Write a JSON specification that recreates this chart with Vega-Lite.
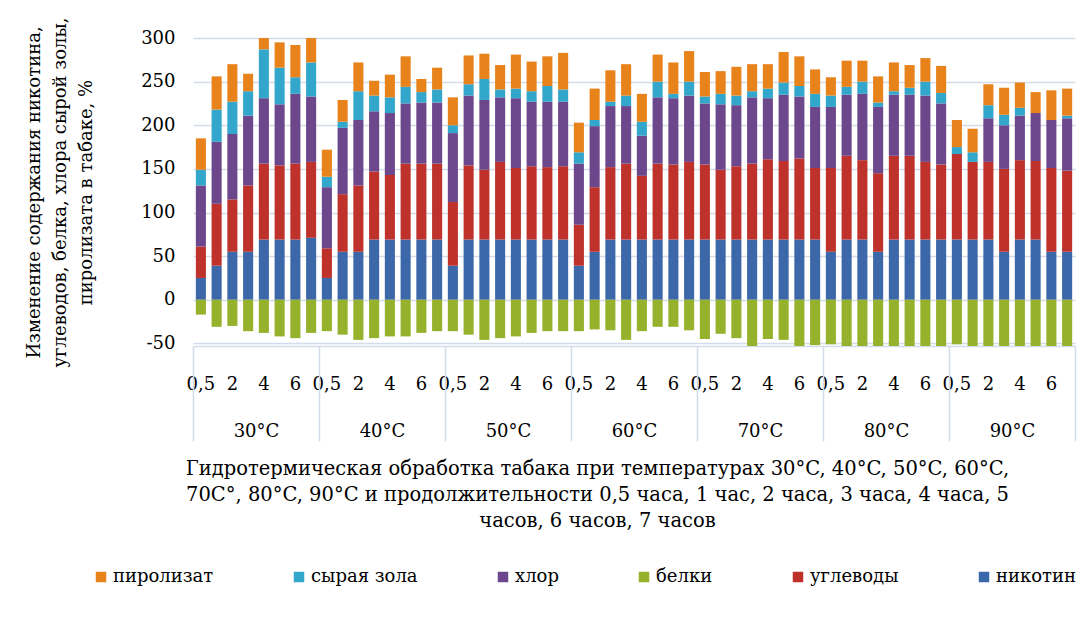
{
  "$schema": "https://vega.github.io/schema/vega-lite/v6.json",
  "width": 882,
  "height": 308,
  "autosize": {"type": "none"},
  "padding": {"left": 193, "top": 38, "right": 15, "bottom": 273},
  "background": "white",
  "config": {"view": {"stroke": null}, "font": "DejaVu Serif"},
  "datasets": {
    "series": [
      {"s": "никотин", "o": 1},
      {"s": "углеводы", "o": 2},
      {"s": "белки", "o": 3},
      {"s": "хлор", "o": 4},
      {"s": "сырая зола", "o": 5},
      {"s": "пиролизат", "o": 6}
    ],
    "bars": [
      {"t": "30°C", "k": "30|0,5", "никотин": 25, "углеводы": 36, "белки": -17, "хлор": 70, "сырая зола": 18, "пиролизат": 36},
      {"t": "30°C", "k": "30|1", "никотин": 39, "углеводы": 71, "белки": -31, "хлор": 71, "сырая зола": 37, "пиролизат": 38},
      {"t": "30°C", "k": "30|2", "никотин": 55, "углеводы": 60, "белки": -30, "хлор": 75, "сырая зола": 37, "пиролизат": 43},
      {"t": "30°C", "k": "30|3", "никотин": 55, "углеводы": 76, "белки": -36, "хлор": 80, "сырая зола": 28, "пиролизат": 20},
      {"t": "30°C", "k": "30|4", "никотин": 69, "углеводы": 87, "белки": -38, "хлор": 75, "сырая зола": 56, "пиролизат": 14},
      {"t": "30°C", "k": "30|5", "никотин": 69, "углеводы": 85, "белки": -42, "хлор": 70, "сырая зола": 42, "пиролизат": 29},
      {"t": "30°C", "k": "30|6", "никотин": 69, "углеводы": 87, "белки": -44, "хлор": 80, "сырая зола": 19, "пиролизат": 37},
      {"t": "30°C", "k": "30|7", "никотин": 71, "углеводы": 87, "белки": -38, "хлор": 75, "сырая зола": 39, "пиролизат": 29},
      {"t": "40°C", "k": "40|0,5", "никотин": 25, "углеводы": 34, "белки": -36, "хлор": 70, "сырая зола": 12, "пиролизат": 31},
      {"t": "40°C", "k": "40|1", "никотин": 55, "углеводы": 66, "белки": -40, "хлор": 76, "сырая зола": 7, "пиролизат": 25},
      {"t": "40°C", "k": "40|2", "никотин": 55, "углеводы": 76, "белки": -46, "хлор": 75, "сырая зола": 33, "пиролизат": 33},
      {"t": "40°C", "k": "40|3", "никотин": 69, "углеводы": 78, "белки": -44, "хлор": 69, "сырая зола": 18, "пиролизат": 17},
      {"t": "40°C", "k": "40|4", "никотин": 69, "углеводы": 74, "белки": -42, "хлор": 71, "сырая зола": 18, "пиролизат": 26},
      {"t": "40°C", "k": "40|5", "никотин": 69, "углеводы": 87, "белки": -42, "хлор": 69, "сырая зола": 19, "пиролизат": 35},
      {"t": "40°C", "k": "40|6", "никотин": 69, "углеводы": 87, "белки": -38, "хлор": 70, "сырая зола": 12, "пиролизат": 15},
      {"t": "40°C", "k": "40|7", "никотин": 69, "углеводы": 87, "белки": -36, "хлор": 70, "сырая зола": 15, "пиролизат": 25},
      {"t": "50°C", "k": "50|0,5", "никотин": 39, "углеводы": 73, "белки": -36, "хлор": 79, "сырая зола": 9, "пиролизат": 32},
      {"t": "50°C", "k": "50|1", "никотин": 69, "углеводы": 85, "белки": -40, "хлор": 80, "сырая зола": 13, "пиролизат": 33},
      {"t": "50°C", "k": "50|2", "никотин": 69, "углеводы": 80, "белки": -46, "хлор": 80, "сырая зола": 24, "пиролизат": 29},
      {"t": "50°C", "k": "50|3", "никотин": 69, "углеводы": 89, "белки": -44, "хлор": 74, "сырая зола": 9, "пиролизат": 28},
      {"t": "50°C", "k": "50|4", "никотин": 69, "углеводы": 82, "белки": -42, "хлор": 80, "сырая зола": 11, "пиролизат": 39},
      {"t": "50°C", "k": "50|5", "никотин": 69, "углеводы": 84, "белки": -38, "хлор": 74, "сырая зола": 12, "пиролизат": 34},
      {"t": "50°C", "k": "50|6", "никотин": 69, "углеводы": 83, "белки": -36, "хлор": 75, "сырая зола": 18, "пиролизат": 34},
      {"t": "50°C", "k": "50|7", "никотин": 69, "углеводы": 84, "белки": -36, "хлор": 74, "сырая зола": 14, "пиролизат": 42},
      {"t": "60°C", "k": "60|0,5", "никотин": 39, "углеводы": 47, "белки": -36, "хлор": 70, "сырая зола": 13, "пиролизат": 34},
      {"t": "60°C", "k": "60|1", "никотин": 55, "углеводы": 74, "белки": -34, "хлор": 70, "сырая зола": 7, "пиролизат": 36},
      {"t": "60°C", "k": "60|2", "никотин": 69, "углеводы": 83, "белки": -35, "хлор": 70, "сырая зола": 5, "пиролизат": 36},
      {"t": "60°C", "k": "60|3", "никотин": 69, "углеводы": 87, "белки": -46, "хлор": 66, "сырая зола": 12, "пиролизат": 36},
      {"t": "60°C", "k": "60|4", "никотин": 69, "углеводы": 73, "белки": -36, "хлор": 46, "сырая зола": 16, "пиролизат": 32},
      {"t": "60°C", "k": "60|5", "никотин": 69, "углеводы": 87, "белки": -31, "хлор": 76, "сырая зола": 18, "пиролизат": 31},
      {"t": "60°C", "k": "60|6", "никотин": 69, "углеводы": 86, "белки": -31, "хлор": 76, "сырая зола": 5, "пиролизат": 36},
      {"t": "60°C", "k": "60|7", "никотин": 69, "углеводы": 89, "белки": -35, "хлор": 76, "сырая зола": 16, "пиролизат": 35},
      {"t": "70°C", "k": "70|0,5", "никотин": 69, "углеводы": 86, "белки": -45, "хлор": 70, "сырая зола": 8, "пиролизат": 28},
      {"t": "70°C", "k": "70|1", "никотин": 69, "углеводы": 80, "белки": -39, "хлор": 75, "сырая зола": 12, "пиролизат": 26},
      {"t": "70°C", "k": "70|2", "никотин": 69, "углеводы": 84, "белки": -44, "хлор": 70, "сырая зола": 11, "пиролизат": 33},
      {"t": "70°C", "k": "70|3", "никотин": 69, "углеводы": 87, "белки": -53, "хлор": 76, "сырая зола": 7, "пиролизат": 31},
      {"t": "70°C", "k": "70|4", "никотин": 69, "углеводы": 92, "белки": -45, "хлор": 70, "сырая зола": 11, "пиролизат": 28},
      {"t": "70°C", "k": "70|5", "никотин": 69, "углеводы": 90, "белки": -46, "хлор": 76, "сырая зола": 14, "пиролизат": 35},
      {"t": "70°C", "k": "70|6", "никотин": 69, "углеводы": 93, "белки": -53, "хлор": 71, "сырая зола": 12, "пиролизат": 34},
      {"t": "70°C", "k": "70|7", "никотин": 69, "углеводы": 82, "белки": -52, "хлор": 70, "сырая зола": 15, "пиролизат": 28},
      {"t": "80°C", "k": "80|0,5", "никотин": 55, "углеводы": 96, "белки": -51, "хлор": 70, "сырая зола": 13, "пиролизат": 21},
      {"t": "80°C", "k": "80|1", "никотин": 69, "углеводы": 96, "белки": -53, "хлор": 70, "сырая зола": 9, "пиролизат": 30},
      {"t": "80°C", "k": "80|2", "никотин": 69, "углеводы": 91, "белки": -53, "хлор": 76, "сырая зола": 14, "пиролизат": 24},
      {"t": "80°C", "k": "80|3", "никотин": 55, "углеводы": 90, "белки": -53, "хлор": 76, "сырая зола": 5, "пиролизат": 30},
      {"t": "80°C", "k": "80|4", "никотин": 69, "углеводы": 96, "белки": -53, "хлор": 70, "сырая зола": 4, "пиролизат": 33},
      {"t": "80°C", "k": "80|5", "никотин": 69, "углеводы": 96, "белки": -53, "хлор": 70, "сырая зола": 8, "пиролизат": 26},
      {"t": "80°C", "k": "80|6", "никотин": 69, "углеводы": 89, "белки": -53, "хлор": 76, "сырая зола": 16, "пиролизат": 27},
      {"t": "80°C", "k": "80|7", "никотин": 69, "углеводы": 86, "белки": -53, "хлор": 70, "сырая зола": 12, "пиролизат": 31},
      {"t": "90°C", "k": "90|0,5", "никотин": 69, "углеводы": 98, "белки": -51, "хлор": 0, "сырая зола": 8, "пиролизат": 31},
      {"t": "90°C", "k": "90|1", "никотин": 69, "углеводы": 89, "белки": -53, "хлор": 0, "сырая зола": 11, "пиролизат": 27},
      {"t": "90°C", "k": "90|2", "никотин": 69, "углеводы": 89, "белки": -53, "хлор": 50, "сырая зола": 15, "пиролизат": 24},
      {"t": "90°C", "k": "90|3", "никотин": 55, "углеводы": 95, "белки": -53, "хлор": 50, "сырая зола": 12, "пиролизат": 31},
      {"t": "90°C", "k": "90|4", "никотин": 69, "углеводы": 91, "белки": -53, "хлор": 51, "сырая зола": 9, "пиролизат": 29},
      {"t": "90°C", "k": "90|5", "никотин": 69, "углеводы": 90, "белки": -53, "хлор": 55, "сырая зола": 0, "пиролизат": 24},
      {"t": "90°C", "k": "90|6", "никотин": 55, "углеводы": 96, "белки": -53, "хлор": 55, "сырая зола": 0, "пиролизат": 34},
      {"t": "90°C", "k": "90|7", "никотин": 55, "углеводы": 93, "белки": -53, "хлор": 60, "сырая зола": 3, "пиролизат": 31}
    ]
  },
  "data": {"name": "bars"},
  "layer": [
    {
      "transform": [
        {"fold": ["никотин", "углеводы", "белки", "хлор", "сырая зола", "пиролизат"], "as": ["s", "v"]},
        {"lookup": "s", "from": {"data": {"name": "series"}, "key": "s", "fields": ["o"]}}
      ],
      "mark": {"type": "bar", "clip": true},
      "encoding": {
        "x": {
          "field": "k", "type": "nominal", "sort": null,
          "scale": {"paddingInner": 0.36, "paddingOuter": 0.18},
          "axis": {
            "orient": "bottom", "title": null, "domain": false, "ticks": false, "tickSize": 0,
            "grid": false, "labelAngle": 0, "labelPadding": 29, "labelFontSize": 18,
            "labelFont": "DejaVu Serif", "labelColor": "black", "labelOverlap": false,
            "labelExpr": "indexof(['0,5','2','4','6'], split(datum.value,'|')[1]) >= 0 ? split(datum.value,'|')[1] : ''"
          }
        },
        "y": {
          "field": "v", "type": "quantitative", "stack": "zero",
          "scale": {"domain": [-53, 300], "nice": false, "zero": false},
          "axis": {
            "values": [-50, 0, 50, 100, 150, 200, 250, 300],
            "labelExpr": "'' + datum.value",
            "domain": false, "ticks": false, "tickSize": 0, "labelPadding": 18,
            "labelFontSize": 18, "labelFont": "DejaVu Serif", "labelColor": "black",
            "grid": true, "gridColor": "#D3DCEA", "gridWidth": 1.5,
            "title": ["Изменение содержания  никотина,", "углеводов,  белка, хлора сырой золы,", "пиролизата в табаке, %"],
            "titleFont": "DejaVu Serif", "titleFontSize": 18, "titleFontWeight": "normal",
            "titleColor": "black", "titleLineHeight": 26, "titlePadding": 45
          }
        },
        "color": {
          "field": "s", "type": "nominal",
          "scale": {
            "domain": ["пиролизат", "сырая зола", "хлор", "белки", "углеводы", "никотин"],
            "range": ["#E8831C", "#33A6CB", "#6D478C", "#96B22D", "#BE322B", "#3C68AA"]
          },
          "legend": {
            "orient": "none", "legendX": -101, "legendY": 530, "direction": "horizontal",
            "columns": 6, "columnPadding": 76, "title": null,
            "symbolType": "square", "symbolSize": 110, "symbolStrokeWidth": 0,
            "labelFont": "DejaVu Serif", "labelFontSize": 18, "labelColor": "black", "labelOffset": 3
          }
        },
        "order": {"field": "o", "type": "quantitative"}
      }
    },
    {
      "mark": {"type": "rule", "opacity": 0},
      "encoding": {
        "x": {
          "field": "t", "type": "nominal", "sort": null,
          "scale": {"type": "band", "paddingInner": 0, "paddingOuter": 0},
          "axis": {
            "orient": "bottom", "domain": true, "domainColor": "#D3DCEA", "domainWidth": 1.5,
            "ticks": true, "tickBand": "extent", "tickSize": 95, "tickColor": "#D3DCEA", "tickWidth": 1.5,
            "grid": false, "labelAngle": 0, "labelPadding": -19, "labelFontSize": 18,
            "labelFont": "DejaVu Serif", "labelColor": "black",
            "title": ["Гидротермическая обработка табака при температурах 30°C, 40°C, 50°C, 60°C,", "70C°, 80°C, 90°C и продолжительности 0,5 часа,  1 час, 2 часа, 3 часа, 4 часа, 5", "часов, 6 часов, 7 часов"],
            "titleFont": "DejaVu Serif", "titleFontSize": 19.5, "titleFontWeight": "normal",
            "titleColor": "black", "titleLineHeight": 26, "titlePadding": 18, "titleX": 404
          }
        }
      }
    }
  ],
  "resolve": {"scale": {"x": "independent"}, "axis": {"x": "independent"}}
}
